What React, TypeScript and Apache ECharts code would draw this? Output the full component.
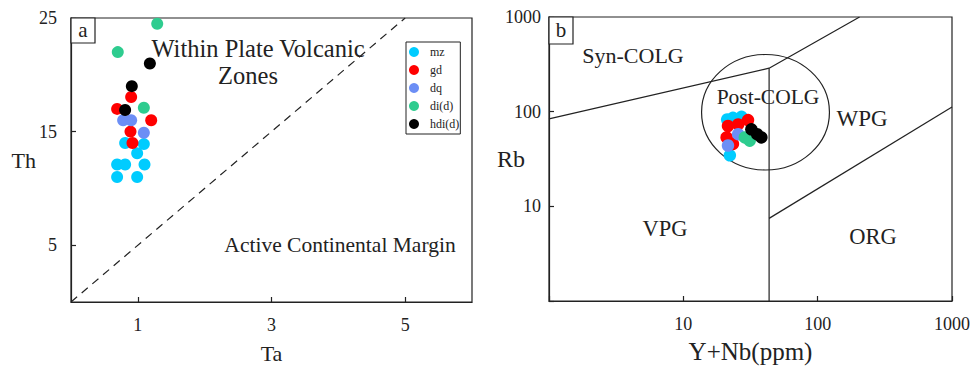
import React, { useEffect, useRef } from 'react';
import * as echarts from 'echarts';

const seriesNames = ['mz', 'gd', 'dq', 'di(d)', 'hdi(d)'];
const seriesColors = ['#00CCFF', '#FF0000', '#6C8EF5', '#2ECC8F', '#000000'];

// Panel a: Ta (x) vs Th (y)
const taThMz = [[0.81, 14.0], [1.09, 13.9], [0.99, 13.1], [0.69, 12.1], [0.81, 12.1], [1.10, 12.1], [0.69, 11.0], [0.99, 11.0]];
const taThGd = [[0.90, 18.05], [0.69, 17.0], [1.20, 16.0], [0.89, 15.0], [0.92, 14.0]];
const taThDq = [[0.78, 16.0], [0.90, 16.0], [1.09, 14.9]];
const taThDi = [[1.29, 24.5], [0.70, 22.0], [1.09, 17.1]];
const taThHdi = [[1.18, 21.0], [0.91, 19.0], [0.81, 16.9]];
const taThBoundary = [[0, 0], [5, 25]];
const taTicks = [1, 3, 5];
const thTicks = [5, 15, 25];

// Panel b: Y+Nb (x) vs Rb (y)
const ynbRbMz = [[21.2, 82.6], [23.4, 86.1], [27.1, 88.2], [22.2, 34.6]];
const ynbRbGd = [[21.5, 70.6], [25.6, 73.4], [30.3, 81.5], [21.0, 53.5], [23.4, 45.6]];
const ynbRbDq = [[21.5, 43.9], [25.6, 57.8]];
const ynbRbDi = [[28.7, 53.5], [31.2, 49.4]];
const ynbRbHdi = [[32.1, 65.1], [35.4, 57.8], [38.1, 53.5]];
const synColgLine = [[1, 84], [43.5, 288], [205, 1000]];
const vagWpgLine = [[43.5, 288], [43.5, 1]];
const wpgOrgLine = [[43.5, 7.46], [1000, 112]];
const postColgCenter = [40.9, 98.6];
const postColgRadiusDecades = [0.476, 0.61];

const FONT = 'Liberation Serif';
const INK = '#222';

export default function App() {
  const ref = useRef<HTMLDivElement>(null);
  useEffect(() => {
    if (!ref.current) return;
    const chart = echarts.init(ref.current, null, { renderer: 'svg' });
    const aData = [taThMz, taThGd, taThDq, taThDi, taThHdi];
    const bData = [ynbRbMz, ynbRbGd, ynbRbDq, ynbRbDi, ynbRbHdi];
    const boundaryStyle = { color: INK, width: 1.2 };
    const series: any[] = [];
    series.push({ type: 'line', xAxisIndex: 0, yAxisIndex: 0, data: taThBoundary, symbol: 'none', silent: true, lineStyle: { color: INK, width: 1.2, type: [8, 6] } });
    series.push({ type: 'line', xAxisIndex: 1, yAxisIndex: 1, data: synColgLine, symbol: 'none', silent: true, lineStyle: boundaryStyle });
    series.push({ type: 'line', xAxisIndex: 1, yAxisIndex: 1, data: vagWpgLine, symbol: 'none', silent: true, lineStyle: boundaryStyle });
    series.push({ type: 'line', xAxisIndex: 1, yAxisIndex: 1, data: wpgOrgLine, symbol: 'none', silent: true, lineStyle: boundaryStyle });
    seriesNames.forEach((n, i) => {
      series.push({ type: 'scatter', name: n, xAxisIndex: 0, yAxisIndex: 0, data: aData[i], symbolSize: 12, itemStyle: { color: seriesColors[i], opacity: 1 }, z: 3 + i });
      series.push({ type: 'scatter', name: n, xAxisIndex: 1, yAxisIndex: 1, data: bData[i], symbolSize: 12.5, itemStyle: { color: seriesColors[i], opacity: 1 }, z: 3 + i });
    });
    const tickLabel = { color: INK, fontFamily: FONT, fontSize: 18 };
    const nameStyle = { color: INK, fontFamily: FONT, fontSize: 22 };
    const axisLine = { show: true, lineStyle: { color: INK, width: 1.2 } };
    const axisTick = { show: true, inside: true, length: 5, lineStyle: { color: INK, width: 1.2 } };
    chart.setOption({
      animation: false,
      textStyle: { fontFamily: FONT },
      legend: {
        data: seriesNames,
        orient: 'vertical',
        left: 406,
        top: 42,
        icon: 'circle',
        itemWidth: 10,
        itemHeight: 10,
        itemGap: 4,
        padding: [3, 1, 3, 3],
        borderColor: INK,
        borderWidth: 1,
        backgroundColor: '#fff',
        textStyle: { fontFamily: FONT, fontSize: 12, color: INK, lineHeight: 14, padding: [0, 0, 0, 6] },
      },
      grid: [
        { left: 71, top: 18, width: 401, height: 289, show: true, borderColor: INK, borderWidth: 1.2, containLabel: false },
        { left: 549, top: 17, width: 403, height: 290, show: true, borderColor: INK, borderWidth: 1.2, containLabel: false },
      ],
      xAxis: [
        {
          type: 'value', gridIndex: 0, min: 0, max: 6, name: 'Ta', nameLocation: 'middle', nameGap: 40, nameMoveOverlap: false, nameTextStyle: nameStyle,
          axisLine, axisTick: { ...axisTick, customValues: taTicks }, axisLabel: { ...tickLabel, margin: 14, customValues: taTicks }, splitLine: { show: false },
        },
        {
          type: 'log', logBase: 10, gridIndex: 1, min: 1, max: 1000, name: 'Y+Nb(ppm)', nameLocation: 'middle', nameGap: 38, nameMoveOverlap: false, nameTextStyle: { ...nameStyle, fontSize: 25 },
          axisLine, axisTick, axisLabel: { ...tickLabel, margin: 14, formatter: (v: number) => (v < 5 ? '' : String(Math.round(v))) }, splitLine: { show: false }, minorTick: { show: false },
        },
      ],
      yAxis: [
        {
          type: 'value', gridIndex: 0, min: 0, max: 25, name: 'Th', nameLocation: 'middle', nameRotate: 0, nameGap: 35, nameMoveOverlap: false, nameTextStyle: nameStyle,
          axisLine, axisTick: { ...axisTick, customValues: thTicks }, axisLabel: { ...tickLabel, margin: 14, customValues: thTicks }, splitLine: { show: false },
        },
        {
          type: 'log', logBase: 10, gridIndex: 1, min: 1, max: 1000, name: 'Rb', nameLocation: 'middle', nameRotate: 0, nameGap: 24, nameMoveOverlap: false, nameTextStyle: { ...nameStyle, fontSize: 24 },
          axisLine, axisTick, axisLabel: { ...tickLabel, margin: 8, formatter: (v: number) => (v < 5 ? '' : String(Math.round(v))) }, splitLine: { show: false },
        },
      ],
      series,
    });

    const c = chart.convertToPixel({ xAxisIndex: 1, yAxisIndex: 1 } as any, postColgCenter) as number[];
    const ex = chart.convertToPixel({ xAxisIndex: 1, yAxisIndex: 1 } as any, [postColgCenter[0] * Math.pow(10, postColgRadiusDecades[0]), postColgCenter[1]]) as number[];
    const ey = chart.convertToPixel({ xAxisIndex: 1, yAxisIndex: 1 } as any, [postColgCenter[0], postColgCenter[1] * Math.pow(10, postColgRadiusDecades[1])]) as number[];

    const label = (text: string, x: number, y: number, size = 22) => ({
      type: 'text', x, y, silent: true,
      style: { text, fill: INK, font: `${size}px "${FONT}"`, align: 'center', verticalAlign: 'middle' },
    });
    chart.setOption({
      graphic: [
        { type: 'ellipse', shape: { cx: c[0], cy: c[1], rx: Math.abs(ex[0] - c[0]), ry: Math.abs(c[1] - ey[1]) }, style: { fill: 'none', stroke: INK, lineWidth: 1.2 }, silent: true, z: 1 },
        { type: 'rect', shape: { x: 71, y: 18, width: 24, height: 25 }, style: { fill: '#fff', stroke: INK, lineWidth: 1.2 }, z: 10 },
        { ...label('a', 83, 30, 21), z: 11 },
        { type: 'rect', shape: { x: 549, y: 17, width: 24, height: 27 }, style: { fill: '#fff', stroke: INK, lineWidth: 1.2 }, z: 10 },
        { ...label('b', 561, 30, 21), z: 11 },
        label('Within Plate Volcanic', 258, 48, 24.5),
        label('Zones', 248, 75, 24.5),
        label('Active Continental Margin', 340, 245, 21.5),
        label('Syn-COLG', 633, 55, 22),
        label('Post-COLG', 768, 97, 21.5),
        label('WPG', 862, 118, 23),
        label('VPG', 665, 228, 22.5),
        label('ORG', 873, 236, 22.5),
      ],
    });
    return () => chart.dispose();
  }, []);
  return <div ref={ref} style={{ position: 'absolute', left: 0, top: 0, width: 973, height: 369 }} />;
}
